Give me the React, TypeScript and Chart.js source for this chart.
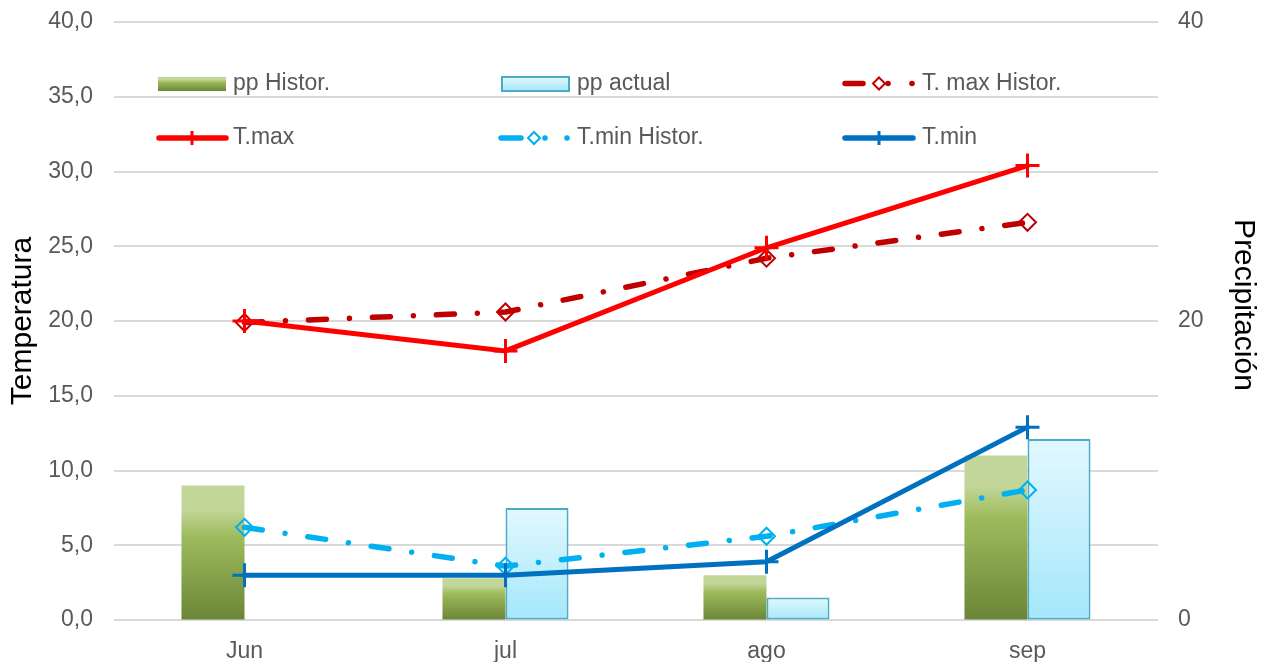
import React, { useEffect, useRef } from "react";
import { Chart, registerables } from "chart.js";

Chart.register(...registerables);

const categories = ["Jun", "jul", "ago", "sep"];
const ppHistor = [9.0, 2.8, 3.0, 11.0];
const ppActual: (number | null)[] = [null, 7.5, 1.5, 12.1];
const tMaxHistor = [19.9, 20.6, 24.2, 26.6];
const tMax = [20.0, 18.0, 24.9, 30.4];
const tMinHistor = [6.2, 3.6, 5.6, 8.7];
const tMin = [3.0, 3.0, 3.9, 12.9];
const leftTickLabels = ["0,0", "5,0", "10,0", "15,0", "20,0", "25,0", "30,0", "35,0", "40,0"];
const rightTickLabels = ["0", "20", "40"];

const FAMILY = "'Liberation Sans', Arial, sans-serif";
const GREY = "#595959";
const GREEN_STOPS: [number, string][] = [
  [0, "#c4d79b"],
  [0.18, "#c3d69a"],
  [0.38, "#9dbb5c"],
  [1, "#6b8537"],
];
const BLUE_STOPS: [number, string][] = [
  [0, "#e3f8fe"],
  [1, "#a4e7fb"],
];

function barGradient(context: any, stops: [number, string][]) {
  const chart = context.chart;
  const fallback = stops[Math.floor(stops.length / 2)][1];
  if (!chart.chartArea || context.type !== "data") return fallback;
  const scale = chart.scales.y1;
  const v = context.parsed ? context.parsed.y : context.raw;
  if (v == null || !scale) return fallback;
  const top = scale.getPixelForValue(v);
  const bottom = scale.getPixelForValue(0);
  if (!isFinite(top) || !isFinite(bottom) || bottom - top < 1) return fallback;
  const g = chart.ctx.createLinearGradient(0, top, 0, bottom);
  stops.forEach(([o, c]) => g.addColorStop(o, c));
  return g;
}

function diamond(ctx: CanvasRenderingContext2D, x: number, y: number, r: number, color: string) {
  ctx.beginPath();
  ctx.moveTo(x, y - r);
  ctx.lineTo(x + r, y);
  ctx.lineTo(x, y + r);
  ctx.lineTo(x - r, y);
  ctx.closePath();
  ctx.fillStyle = "#ffffff";
  ctx.fill();
  ctx.lineWidth = 2;
  ctx.strokeStyle = color;
  ctx.stroke();
}

function seg(ctx: CanvasRenderingContext2D, x1: number, x2: number, y: number, color: string, w: number) {
  ctx.beginPath();
  ctx.moveTo(x1, y);
  ctx.lineTo(x2, y);
  ctx.lineCap = "round";
  ctx.lineWidth = w;
  ctx.strokeStyle = color;
  ctx.stroke();
}

function dot(ctx: CanvasRenderingContext2D, x: number, y: number, color: string) {
  ctx.beginPath();
  ctx.arc(x, y, 2.8, 0, Math.PI * 2);
  ctx.fillStyle = color;
  ctx.fill();
}

function plus(ctx: CanvasRenderingContext2D, x: number, y: number, r: number, color: string) {
  ctx.beginPath();
  ctx.moveTo(x, y - r);
  ctx.lineTo(x, y + r);
  ctx.lineCap = "butt";
  ctx.lineWidth = 3;
  ctx.strokeStyle = color;
  ctx.stroke();
}

const customLegend = {
  id: "customLegend",
  afterDraw(chart: any) {
    const ctx: CanvasRenderingContext2D = chart.ctx;
    ctx.save();
    const r1 = 83.5;
    const r2 = 138;
    let g = ctx.createLinearGradient(0, 77, 0, 91);
    GREEN_STOPS.forEach(([o, c]) => g.addColorStop(o, c));
    ctx.fillStyle = g;
    ctx.fillRect(158, 77, 68, 14);
    g = ctx.createLinearGradient(0, 77, 0, 91);
    BLUE_STOPS.forEach(([o, c]) => g.addColorStop(o, c));
    ctx.fillStyle = g;
    ctx.fillRect(502, 77, 67, 14);
    ctx.lineWidth = 2;
    ctx.strokeStyle = "#4bacc6";
    ctx.strokeRect(502, 77, 67, 14);
    seg(ctx, 845, 863, r1, "#c00000", 5.5);
    diamond(ctx, 879, r1, 6, "#c00000");
    dot(ctx, 888, r1, "#c00000");
    dot(ctx, 912, r1, "#c00000");
    seg(ctx, 159, 226, r2, "#ff0000", 5.5);
    plus(ctx, 192, r2, 7, "#ff0000");
    seg(ctx, 501, 521, r2, "#00b0f0", 5.5);
    diamond(ctx, 534, r2, 6, "#00b0f0");
    dot(ctx, 545, r2, "#00b0f0");
    dot(ctx, 567, r2, "#00b0f0");
    seg(ctx, 845, 913, r2, "#0070c0", 5.5);
    plus(ctx, 879, r2, 7, "#0070c0");

    ctx.font = `23px ${FAMILY}`;
    ctx.fillStyle = GREY;
    ctx.textAlign = "left";
    ctx.textBaseline = "middle";
    ctx.fillText("pp Histor.", 233, r1);
    ctx.fillText("pp actual", 577, r1);
    ctx.fillText("T. max Histor.", 922, r1);
    ctx.fillText("T.max", 233, r2);
    ctx.fillText("T.min Histor.", 577, r2);
    ctx.fillText("T.min", 922, r2);

    ctx.save();
    ctx.translate(1243, 305);
    ctx.rotate(Math.PI / 2);
    ctx.font = `30px ${FAMILY}`;
    ctx.fillStyle = "#000000";
    ctx.textAlign = "center";
    ctx.textBaseline = "middle";
    ctx.fillText("Precipitación", 0, 0);
    ctx.restore();
    ctx.restore();
  },
};

export default function App() {
  const canvasRef = useRef<HTMLCanvasElement | null>(null);

  useEffect(() => {
    if (!canvasRef.current) return;
    const tickFont = { family: FAMILY, size: 23 };
    const chart = new Chart(canvasRef.current, {
      data: {
        labels: categories,
        datasets: [
          {
            type: "bar",
            label: "pp Histor.",
            data: ppHistor,
            yAxisID: "y1",
            backgroundColor: (c: any) => barGradient(c, GREEN_STOPS),
            borderWidth: 0,
            barPercentage: 1,
            categoryPercentage: 0.483,
            order: 5,
          },
          {
            type: "bar",
            label: "pp actual",
            data: ppActual,
            yAxisID: "y1",
            backgroundColor: (c: any) => barGradient(c, BLUE_STOPS),
            borderColor: "#4bacc6",
            borderWidth: 2,
            borderSkipped: false,
            barPercentage: 1,
            categoryPercentage: 0.483,
            order: 5,
          },
          {
            type: "line",
            label: "T. max Histor.",
            data: tMaxHistor,
            yAxisID: "y",
            borderColor: "#c00000",
            borderWidth: 5.5,
            borderDash: [18, 23, 0.01, 23],
            borderCapStyle: "round",
            pointStyle: "rectRot",
            pointRadius: 8.5,
            pointBorderWidth: 2,
            pointBorderColor: "#c00000",
            pointBackgroundColor: "rgba(255,255,255,0)",
            tension: 0,
            fill: false,
            order: 4,
          },
          {
            type: "line",
            label: "T.max",
            data: tMax,
            yAxisID: "y",
            borderColor: "#ff0000",
            borderWidth: 5,
            borderCapStyle: "round",
            pointStyle: "cross",
            pointRadius: 12,
            pointBorderWidth: 3,
            pointBorderColor: "#ff0000",
            tension: 0,
            fill: false,
            order: 3,
          },
          {
            type: "line",
            label: "T.min Histor.",
            data: tMinHistor,
            yAxisID: "y",
            borderColor: "#00b0f0",
            borderWidth: 5.5,
            borderDash: [18, 23, 0.01, 23],
            borderCapStyle: "round",
            pointStyle: "rectRot",
            pointRadius: 8.5,
            pointBorderWidth: 2,
            pointBorderColor: "#00b0f0",
            pointBackgroundColor: "rgba(255,255,255,0)",
            tension: 0,
            fill: false,
            order: 2,
          },
          {
            type: "line",
            label: "T.min",
            data: tMin,
            yAxisID: "y",
            borderColor: "#0070c0",
            borderWidth: 5,
            borderCapStyle: "round",
            pointStyle: "cross",
            pointRadius: 12,
            pointBorderWidth: 3,
            pointBorderColor: "#0070c0",
            tension: 0,
            fill: false,
            order: 1,
          },
        ],
      } as any,
      options: {
        responsive: false,
        animation: false,
        devicePixelRatio: 1,
        layout: { padding: { top: 22, left: 0, right: 0, bottom: 0 } },
        plugins: {
          legend: { display: false },
          tooltip: { enabled: false },
        },
        scales: {
          x: {
            type: "category",
            offset: true,
            grid: { display: false, drawTicks: false },
            border: { display: false },
            ticks: { color: GREY, font: tickFont, padding: 18, maxRotation: 0 },
            afterFit: (s: any) => {
              s.height = 42;
            },
          },
          y: {
            type: "linear",
            position: "left",
            min: 0,
            max: 40,
            ticks: {
              stepSize: 5,
              color: GREY,
              font: tickFont,
              padding: 0,
              callback: (_v: any, i: number) => leftTickLabels[i],
            },
            grid: {
              color: "#d9d9d9",
              lineWidth: 2,
              drawTicks: true,
              tickLength: 21,
              tickColor: "rgba(0,0,0,0)",
            },
            border: { display: false },
            title: {
              display: true,
              text: "Temperatura",
              color: "#000000",
              font: { family: FAMILY, size: 30 },
              padding: { top: 5, bottom: 0 },
            },
            afterFit: (s: any) => {
              s.width = 114;
            },
          },
          y1: {
            type: "linear",
            position: "right",
            min: 0,
            max: 40,
            ticks: {
              stepSize: 20,
              color: GREY,
              font: tickFont,
              padding: 0,
              callback: (_v: any, i: number) => rightTickLabels[i],
            },
            grid: {
              display: true,
              drawOnChartArea: false,
              drawTicks: true,
              tickLength: 20,
              color: "rgba(0,0,0,0)",
              tickColor: "rgba(0,0,0,0)",
            },
            border: { display: false },
            afterFit: (s: any) => {
              s.width = 105;
            },
          },
        },
      } as any,
      plugins: [customLegend],
    });
    return () => chart.destroy();
  }, []);

  return (
    <div style={{ position: "fixed", left: 0, top: 0, width: 1263, height: 662, background: "#ffffff" }}>
      <canvas ref={canvasRef} width={1263} height={662} style={{ display: "block", width: 1263, height: 662 }} />
    </div>
  );
}
